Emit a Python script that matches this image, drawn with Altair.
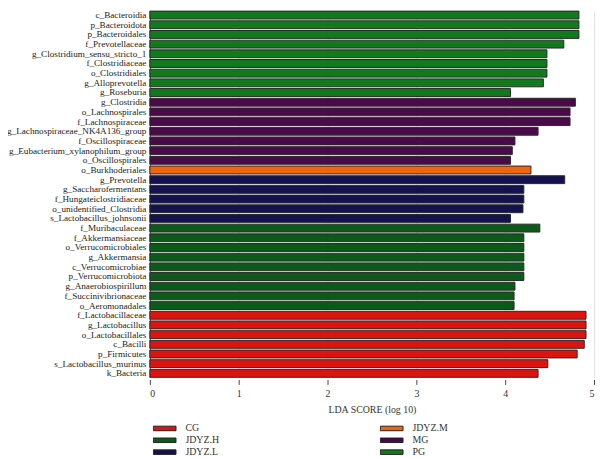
import altair as alt
import pandas as pd

features = [
    "c_Bacteroidia", "p_Bacteroidota", "p_Bacteroidales", "f_Prevotellaceae",
    "g_Clostridium_sensu_stricto_1", "f_Clostridiaceae", "o_Clostridiales",
    "g_Alloprevotella", "g_Roseburia",
    "g_Clostridia", "o_Lachnospirales", "f_Lachnospiraceae",
    "g_Lachnospiraceae_NK4A136_group", "f_Oscillospiraceae",
    "g_Eubacterium_xylanophilum_group", "o_Oscillospirales",
    "o_Burkhoderiales",
    "g_Prevotella", "g_Saccharofermentans", "f_Hungateiclostridiaceae",
    "o_unidentified_Clostridia", "s_Lactobacillus_johnsonii",
    "f_Muribaculaceae", "f_Akkermansiaceae", "o_Verrucomicrobiales",
    "g_Akkermansia", "c_Verrucomicrobiae", "p_Verrucomicrobiota",
    "g_Anaerobiospirillum", "f_Succinivibrionaceae", "o_Aeromonadales",
    "f_Lactobacillaceae", "g_Lactobacillus", "o_Lactobacillales", "c_Bacilli",
    "p_Firmicutes", "s_Lactobacillus_murinus", "k_Bacteria",
]
lda = [
    4.83, 4.83, 4.83, 4.66,
    4.47, 4.47, 4.47,
    4.43, 4.06,
    4.79, 4.73, 4.73,
    4.37, 4.11,
    4.08, 4.06,
    4.29,
    4.67, 4.21, 4.21,
    4.20, 4.06,
    4.39, 4.21, 4.21,
    4.21, 4.21, 4.21,
    4.11, 4.10, 4.10,
    4.91, 4.91, 4.91, 4.89,
    4.81, 4.48, 4.37,
]
groups = (["PG"] * 9 + ["MG"] * 7 + ["JDYZ.M"] * 1 + ["JDYZ.L"] * 5
          + ["JDYZ.H"] * 9 + ["CG"] * 7)

legend_order = ["CG", "JDYZ.H", "JDYZ.L", "JDYZ.M", "MG", "PG"]
legend_colors = ["#dc140f", "#0b5a19", "#13124f", "#f0640f", "#4a0a4a", "#117a1c"]
x_ticks = [0, 1, 2, 3, 4, 5]

df = pd.DataFrame({"feature": features, "lda": lda, "group": groups})

serif = "Liberation Serif"

chart = alt.Chart(df).mark_bar(stroke="#2a2a2a", strokeWidth=1).encode(
    x=alt.X(
        "lda:Q",
        scale=alt.Scale(domain=[0, 5], nice=False),
        axis=alt.Axis(
            values=x_ticks, title="LDA SCORE (log 10)", domain=False,
            grid=True, gridColor="#e2e2e2", tickColor="#444", tickSize=5,
            offset=2, labelFont=serif, labelFontSize=10, labelColor="#333",
            labelPadding=4, titleFont=serif, titleFontSize=10,
            titleFontWeight="normal", titleColor="#333", titlePadding=6,
        ),
    ),
    y=alt.Y(
        "feature:N", sort=features,
        scale=alt.Scale(paddingInner=0.184, paddingOuter=0.02),
        axis=alt.Axis(
            title=None, ticks=False, labelPadding=4, labelFont=serif,
            labelFontSize=9.3, labelColor="#222", domain=True,
            domainColor="#555", labelLimit=300,
        ),
    ),
    color=alt.Color(
        "group:N",
        scale=alt.Scale(domain=legend_order, range=legend_colors),
        legend=alt.Legend(
            title=None, orient="none", legendX=3, legendY=417, columns=2,
            columnPadding=162, rowPadding=0, clipHeight=12,
            symbolType="M-1,-0.2H1V0.2H-1Z", symbolSize=529,
            symbolStrokeWidth=1, symbolStrokeColor="#222",
            labelFont=serif, labelFontSize=10, labelColor="#333",
            labelOffset=9, padding=0,
        ),
    ),
).properties(
    width=450,
    height=371.4,
    padding={"left": 143.7, "top": 0, "right": 2, "bottom": 80},
    autosize=alt.AutoSizeParams(type="none"),
).configure_view(stroke=None)

chart.save("out.html", embed_options={"renderer": "svg", "actions": False})
